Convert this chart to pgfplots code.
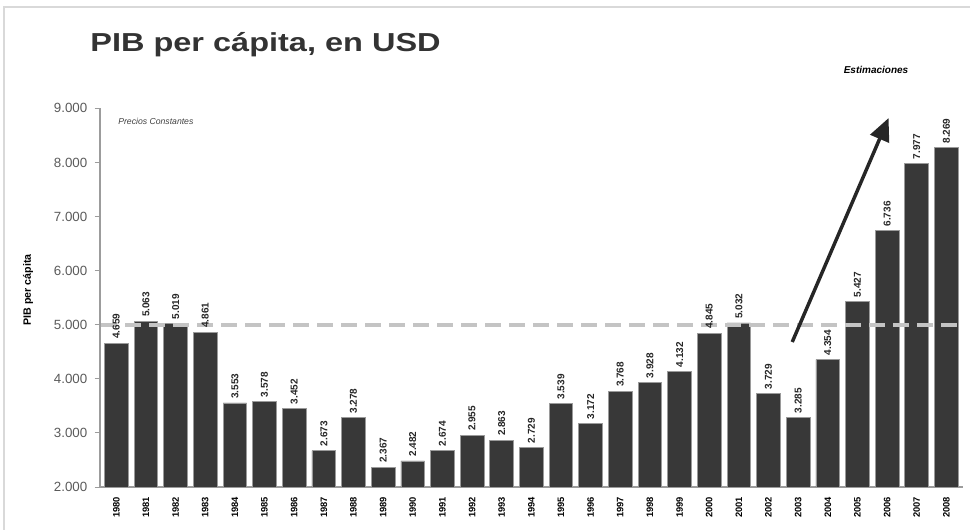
\documentclass[border=0pt]{standalone}
\usepackage{fontspec}
\setmainfont{Liberation Sans}
\usepackage{pgfplots}
\pgfplotsset{compat=1.18}
\usetikzlibrary{arrows.meta}
\definecolor{barfill}{HTML}{383838}
\definecolor{bardraw}{HTML}{9A9A9A}
\definecolor{axisgray}{HTML}{9C9C9C}
\definecolor{ticktext}{HTML}{5A5A5A}
\definecolor{dashgray}{HTML}{C4C4C4}
\definecolor{titlegray}{HTML}{333333}

\begin{document}
\begin{tikzpicture}[x=1pt,y=1pt]
\useasboundingbox (0,0) rectangle (727.5,397.5);
% light frame of the original slide
\draw[gray!30, line width=1.5pt] (3,0) -- (3,392.5) -- (727.5,392.5);

\node[anchor=base west, inner sep=0, text=titlegray, xscale=1.25,
      font=\bfseries\fontsize{19.5}{22}\selectfont] at (67.5,358.5) {PIB per cápita, en USD};
\node[anchor=center, inner sep=0, font=\bfseries\itshape\fontsize{7.5}{9}\selectfont]
      at (657,345) {Estimaciones};
\node[anchor=base west, inner sep=0, text=black!75, font=\itshape\fontsize{6.5}{8}\selectfont]
      at (88.5,304) {Precios Constantes};
\node[rotate=90, inner sep=0, font=\bfseries\fontsize{8}{9}\selectfont]
      at (21,180) {PIB per cápita};

\begin{axis}[
    at={(75pt,32.25pt)}, anchor=south west,
    scale only axis, width=647pt, height=284pt,
    xmin=1979.45, xmax=2008.55,
    ymin=2000, ymax=9000,
    axis x line*=bottom, axis y line*=left,
    axis line style={axisgray, line width=0.8pt},
    ytick={2000,3000,...,9000},
    xtick={1980,1981,...,2008},
    major x tick style={draw=none},
    minor x tick num=1,
    minor tick length=4pt,
    minor x tick style={axisgray, line width=0.6pt},
    major tick length=4pt,
    tick align=outside,
    ytick style={axisgray, line width=0.6pt},
    /pgf/number format/.cd, 1000 sep={.}, fixed, assume math mode=true,
    /pgfplots/.cd,
    yticklabel style={text=ticktext, font=\fontsize{10}{11}\selectfont, xshift=-2pt},
    xticklabel style={rotate=90, anchor=east, font=\bfseries\fontsize{7}{8}\selectfont,
        /pgf/number format/1000 sep={}},
    ybar, bar width=0.8, bar shift=0pt,
    nodes near coords,
    every node near coord/.append style={rotate=90, anchor=west, inner sep=3pt,
        font=\bfseries\fontsize{7.5}{8}\selectfont, text=black!85},
    clip=false,
]
\addplot[fill=barfill, draw=bardraw, line width=0.6pt] coordinates {
    (1980,4659) (1981,5063) (1982,5019) (1983,4861) (1984,3553)
    (1985,3578) (1986,3452) (1987,2673) (1988,3278) (1989,2367)
    (1990,2482) (1991,2674) (1992,2955) (1993,2863) (1994,2729)
    (1995,3539) (1996,3172) (1997,3768) (1998,3928) (1999,4132)
    (2000,4845) (2001,5032) (2002,3729) (2003,3285) (2004,4354)
    (2005,5427) (2006,6736) (2007,7977) (2008,8269)
};
\draw[dashgray, line width=2.8pt, dash pattern=on 12pt off 6pt]
    (axis cs:1979.5,5000) -- (axis cs:2008.55,5000);
\draw[black!85, line width=2.6pt, -{Triangle[length=17pt,width=15pt]}]
    (axis cs:2002.8,4680) -- (axis cs:2006.05,8820);
\end{axis}
\end{tikzpicture}
\end{document}
